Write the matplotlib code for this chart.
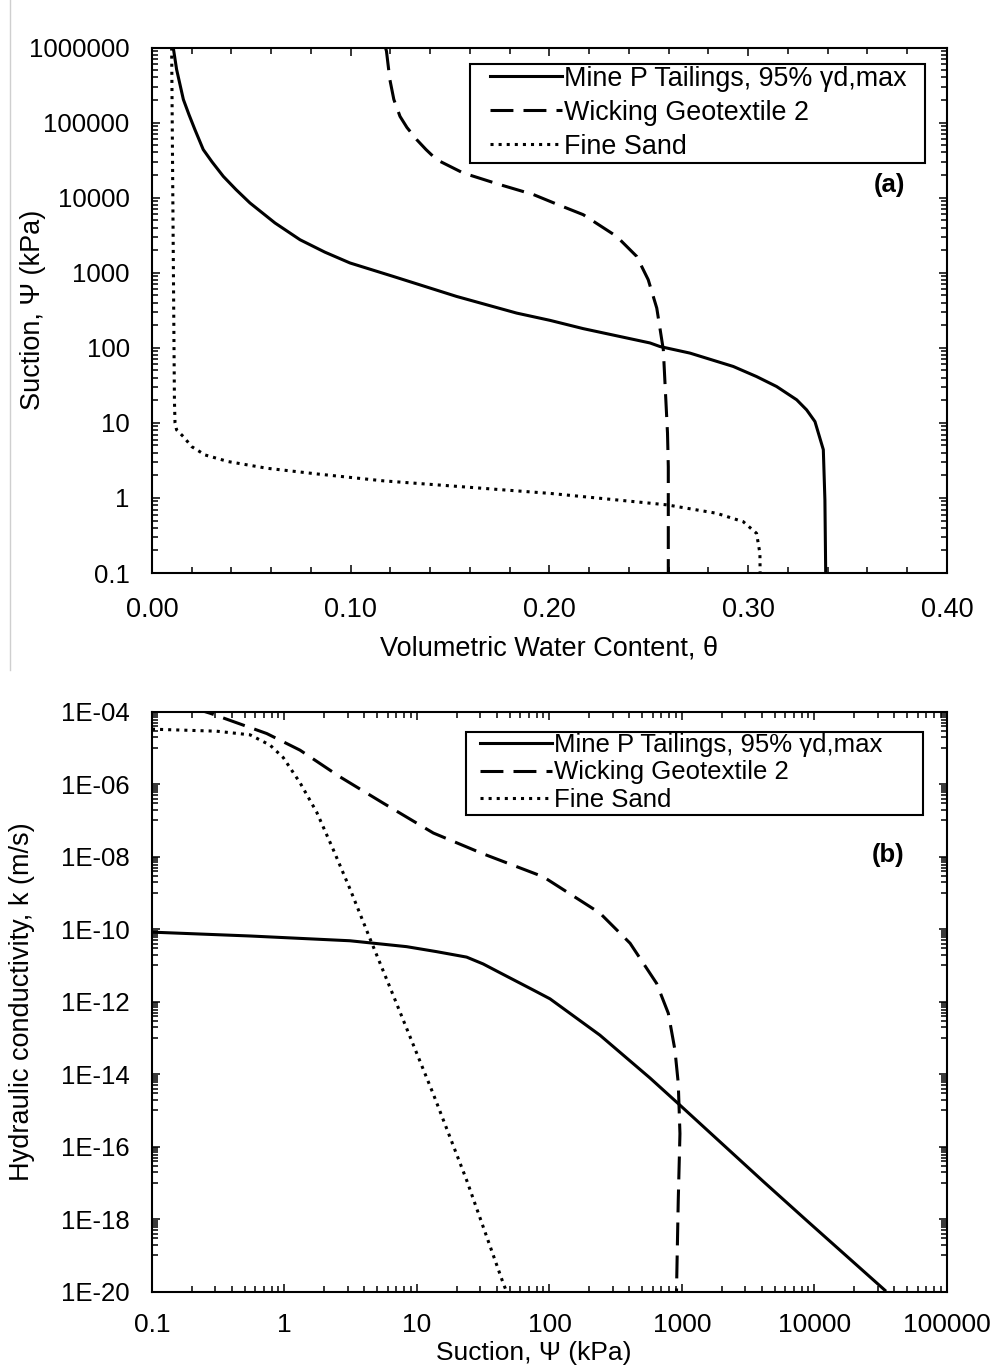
import numpy as np
import matplotlib.pyplot as plt
from matplotlib.ticker import (FixedLocator, FuncFormatter, MultipleLocator,
                               NullFormatter)
from matplotlib.lines import Line2D
from matplotlib.patches import Rectangle

# ---- panel (a): soil-water characteristic curves (suction kPa, theta)
tail_psi = [1e6, 5.1e5, 2.03e5, 1.28e5, 8.07e4, 4.37e4, 3.0e4, 1.92e4, 1.28e4,
            8.5e3, 4.6e3, 2.75e3, 1.88e3, 1.35e3, 893, 483, 290, 232, 180,
            116, 104, 85, 56.4, 41.4, 30.5, 20.3, 14.9, 10.4, 4.4, 0.94, 0.1]
tail_theta = [0.0107, 0.0124, 0.0158, 0.0186, 0.0216, 0.0258, 0.0302, 0.0359,
              0.0423, 0.0493, 0.0619, 0.0745, 0.087, 0.0996, 0.1214, 0.1533,
              0.1835, 0.2003, 0.217, 0.2506, 0.2556, 0.2707, 0.2925, 0.3042,
              0.3143, 0.3244, 0.3294, 0.3336, 0.3378, 0.3386, 0.339]

geo_psi = [1e6, 8.9e5, 3.74e5, 2.03e5, 1.21e5, 8.6e4, 5.93e4, 4.37e4, 3.21e4,
           2.13e4, 1.49e4, 1.1e4, 8.07e3, 5.93e3, 3.05e3, 1.65e3, 807, 338,
           94, 7.3, 2.6, 0.1]
geo_theta = [0.1175, 0.118, 0.1197, 0.1217, 0.1248, 0.1283, 0.1332, 0.1379,
             0.1432, 0.1566, 0.1751, 0.1919, 0.2043, 0.217, 0.2338, 0.2439,
             0.2497, 0.254, 0.2573, 0.2594, 0.2598, 0.2598]

sand_psi = [1e6, 20, 10, 8.07, 6.56, 4.83, 3.74, 3.05, 2.49, 2.09, 1.69, 1.45,
            1.15, 0.81, 0.625, 0.483, 0.338, 0.183, 0.1]
sand_theta = [0.0099, 0.0113, 0.0116, 0.0124, 0.0158, 0.02, 0.0267, 0.0384,
              0.0577, 0.0829, 0.1164, 0.15, 0.2003, 0.259, 0.2841, 0.2975,
              0.3042, 0.3059, 0.306]

# ---- panel (b): hydraulic conductivity functions (suction kPa, k m/s)
tail_kpsi = [0.1, 0.55, 3.12, 8.36, 14.1, 23.7, 31.6, 42.3, 75.5, 101, 240,
             573, 966, 4110, 8710, 34000]
tail_k = [8.3e-11, 6.5e-11, 4.8e-11, 3.3e-11, 2.4e-11, 1.7e-11, 1.1e-11,
          6.3e-12, 2.1e-12, 1.2e-12, 1.2e-13, 7.9e-15, 1.4e-15, 1.1e-17,
          9.3e-19, 1.1e-20]

geo_kpsi = [0.2, 0.274, 0.735, 1.31, 2.62, 5.57, 13.3, 31.6, 89.7, 240, 406,
            644, 789, 885, 938, 966, 938, 912, 910]
geo_k = [1.3e-4, 9.1e-5, 2.5e-5, 8.7e-6, 1.6e-6, 3.0e-7, 4.5e-8, 1.2e-8,
         2.8e-9, 2.8e-10, 4.1e-11, 3.2e-12, 4.8e-13, 4.7e-14, 5.6e-15,
         2.3e-16, 3.4e-18, 1.7e-20, 1e-20]

sand_kpsi = [0.1, 0.308, 0.55, 0.778, 0.98, 1.31, 1.75, 2.33, 3.12, 4.42,
             6.62, 13.3, 23.7, 44.8, 47.5]
sand_k = [3.3e-5, 2.9e-5, 2.3e-5, 1.2e-5, 5.4e-6, 1.1e-6, 1.7e-7, 1.6e-8,
          1.3e-9, 5.5e-11, 1.5e-12, 2.8e-15, 1.2e-17, 1.7e-20, 1e-20]

labels = ["Mine P Tailings, 95% \u03b3d,max", "Wicking Geotextile 2", "Fine Sand"]

# tick positions (decades) for the log axes
psi_a_decades = [10.0 ** e for e in range(-1, 7)]
psi_b_decades = [10.0 ** e for e in range(-1, 6)]
k_major = [10.0 ** e for e in range(-20, -3, 2)]

plt.rcParams.update({
    "font.family": ["Liberation Sans", "DejaVu Sans"],
    "font.size": 18.5,
})

LW = 2.2
styles = [dict(color="black", lw=LW, ls="-"),
          dict(color="black", lw=LW, ls=(0, (7.5, 3.3))),
          dict(color="black", lw=LW, ls=":")]

fig = plt.figure(figsize=(9.9, 13.65), dpi=100)
ax_a = fig.add_axes([0.1535, 0.5802, 0.803, 0.3850])
ax_b = fig.add_axes([0.1535, 0.0537, 0.803, 0.4249])

# faint frame line at the left edge of the upper panel
fig.add_artist(Line2D([10 / 990, 10 / 990], [1.0, 1 - 670 / 1365],
                      color="#cfcfcf", lw=1.0))


def minor_between(decades):
    return [m * d for d in decades[:-1] for m in range(2, 10)]


def style_axes(ax, xpad=17, xsize=19.5):
    for s in ax.spines.values():
        s.set_linewidth(1.5)
    ax.tick_params(which="both", direction="in", top=True, right=True, width=1.1)
    ax.tick_params(which="major", length=6)
    ax.tick_params(which="minor", length=4.5)
    ax.tick_params(axis="x", pad=xpad, labelsize=xsize)
    ax.tick_params(axis="y", pad=16, labelsize=18.5)


def boxed_legend(ax, box, anchor, size, spacing):
    # white box drawn by hand so the side margins can differ from the top/bottom ones
    ax.add_patch(Rectangle(box[:2], box[2], box[3], transform=ax.transAxes,
                           facecolor="white", edgecolor="black", lw=1.5,
                           zorder=4.5, clip_on=False))
    leg = ax.legend(loc="center left", bbox_to_anchor=anchor, borderaxespad=0,
                    borderpad=0, fontsize=size, handlelength=72 / (size * 1.389),
                    handletextpad=0.08, labelspacing=spacing, frameon=False)
    leg.set_zorder(5)
    return leg


# ---------------- (a)
for th, ps, st, lab in zip([tail_theta, geo_theta, sand_theta],
                           [tail_psi, geo_psi, sand_psi], styles, labels):
    ax_a.plot(th, ps, label=lab, **st)
ax_a.set_yscale("log")
ax_a.set_xlim(0, 0.40)
ax_a.set_ylim(0.1, 1e6)
ax_a.xaxis.set_major_locator(MultipleLocator(0.10))
ax_a.xaxis.set_minor_locator(MultipleLocator(0.02))
ax_a.xaxis.set_major_formatter(FuncFormatter(lambda v, p: f"{v:.2f}"))
ax_a.yaxis.set_major_locator(FixedLocator(psi_a_decades))
ax_a.yaxis.set_minor_locator(FixedLocator(minor_between(psi_a_decades)))
ax_a.yaxis.set_minor_formatter(NullFormatter())
ax_a.yaxis.set_major_formatter(FuncFormatter(lambda v, p: f"{v:.0f}" if v >= 1 else f"{v:g}"))
style_axes(ax_a)
ax_a.set_xlabel("Volumetric Water Content, \u03b8", fontsize=19.5, va="center")
ax_a.xaxis.set_label_coords(0.5, -0.143)
ax_a.set_ylabel("Suction, \u03a8 (kPa)", fontsize=19.5, va="center")
ax_a.yaxis.set_label_coords(-0.1497, 0.5)
boxed_legend(ax_a, (0.400, 0.781, 0.5723, 0.1867), (0.4252, 0.876), 19.4, 0.30)
ax_a.text(0.947, 0.739, "(a)", transform=ax_a.transAxes, ha="right",
          va="center", fontsize=18.5, fontweight="bold")

# ---------------- (b)
for ps, kk, st, lab in zip([tail_kpsi, geo_kpsi, sand_kpsi],
                           [tail_k, geo_k, sand_k], styles, labels):
    ax_b.plot(ps, kk, label=lab, **st)
ax_b.set_xscale("log")
ax_b.set_yscale("log")
ax_b.set_xlim(0.1, 1e5)
ax_b.set_ylim(1e-20, 1e-4)
ax_b.xaxis.set_major_locator(FixedLocator(psi_b_decades))
ax_b.xaxis.set_minor_locator(FixedLocator(minor_between(psi_b_decades)))
ax_b.xaxis.set_minor_formatter(NullFormatter())
ax_b.xaxis.set_major_formatter(FuncFormatter(lambda v, p: f"{v:g}" if v < 1 else f"{v:.0f}"))
k_minor = [m * 10.0 ** (e - 1) for e in range(-18, -3, 2) for m in range(1, 10)]
ax_b.yaxis.set_major_locator(FixedLocator(k_major))
ax_b.yaxis.set_minor_locator(FixedLocator(k_minor))
ax_b.yaxis.set_minor_formatter(NullFormatter())
ax_b.yaxis.set_major_formatter(FuncFormatter(lambda v, p: f"1E{int(round(np.log10(v))):03d}"))
style_axes(ax_b, xpad=15.5, xsize=19)
ax_b.set_xlabel("Suction, \u03a8 (kPa)", fontsize=19, va="center")
ax_b.xaxis.set_label_coords(0.4805, -0.105)
ax_b.set_ylabel("Hydraulic conductivity, k (m/s)", fontsize=19.5, va="center")
ax_b.yaxis.set_label_coords(-0.1635, 0.5)
boxed_legend(ax_b, (0.395, 0.8219, 0.5748, 0.1431), (0.4126, 0.8952), 18.5, 0.13)
ax_b.text(0.947, 0.753, "(b)", transform=ax_b.transAxes, ha="right",
          va="center", fontsize=18.5, fontweight="bold")

fig.savefig("out.png", dpi=100, facecolor="white")
